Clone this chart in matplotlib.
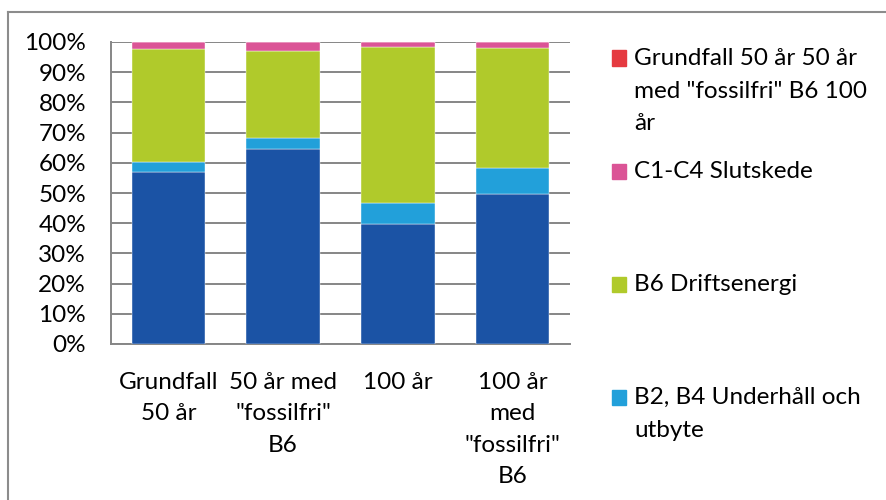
import numpy as np
import matplotlib.pyplot as plt
from matplotlib.patches import Rectangle
from matplotlib.lines import Line2D

plt.rcParams['font.family'] = ['Lato', 'DejaVu Sans']

categories = ['Grundfall\n50 år', '50 år med\n"fossilfri"\nB6', '100 år',
              '100 år\nmed\n"fossilfri"\nB6']
# share of total, percent, bottom to top
produkt = [57.1, 64.6, 39.7, 49.8]          # dark blue, label not visible in legend
underhall = [3.2, 3.7, 7.0, 8.6]            # B2, B4
drift = [37.3, 28.8, 51.6, 39.5]            # B6
slut = [2.4, 2.9, 1.7, 2.1]                 # C1-C4
grundfall = [0.0, 0.0, 0.0, 0.0]            # red series

series = [
    ('A1-A5 Produktskede', produkt, '#1b53a5'),
    ('B2, B4 Underhåll och utbyte', underhall, '#22a0da'),
    ('B6 Driftsenergi', drift, '#b0ca2b'),
    ('C1-C4 Slutskede', slut, '#db5496'),
    ('Grundfall 50 år 50 år med "fossilfri" B6 100 år', grundfall, '#e53a40'),
]

W, H = 887, 500
fig = plt.figure(figsize=(W / 100, H / 100), dpi=100)
ax = fig.add_axes([111 / W, 1 - 344 / H, 459 / W, 302 / H])

x = np.arange(len(categories))
bottom = np.zeros(len(categories))
for name, vals, col in series:
    vals = np.array(vals)
    ax.bar(x, vals, 0.64, bottom=bottom, color=col, label=name, zorder=3,
           edgecolor='white', linewidth=0.3)
    bottom += vals

ax.set_xlim(-0.5, len(categories) - 0.5)
ax.set_ylim(0, 100)
ax.set_yticks(np.arange(0, 101, 10))
ax.set_yticklabels([f'{v}%' for v in range(0, 101, 10)], fontsize=17.5)
ax.set_xticks(x)
ax.set_xticklabels(categories, fontsize=17.5, linespacing=1.62, va='top')
ax.tick_params(length=0)
ax.tick_params(axis='y', pad=18)
ax.tick_params(axis='x', pad=20)
ax.yaxis.grid(True, color='#868686', lw=1.4, zorder=0)
for s in ['top', 'right']:
    ax.spines[s].set_visible(False)
for s in ['left', 'bottom']:
    ax.spines[s].set_color('#868686')
    ax.spines[s].set_linewidth(1.4)

# legend, entries spaced evenly like the original
legend_items = [series[4], series[3], series[2], series[1]]
legend_text = ['Grundfall 50 år 50 år\nmed "fossilfri" B6 100\når', 'C1-C4 Slutskede',
               'B6 Driftsenergi', 'B2, B4 Underhåll och\nutbyte']
for i, ((name, vals, col), txt) in enumerate(zip(legend_items, legend_text)):
    yc = 58 + i * 113
    fig.patches.append(Rectangle((612 / W, 1 - (yc + 7.5) / H), 14 / W, 15 / H,
                                 transform=fig.transFigure, color=col))
    fig.text(634 / W, 1 - (yc - 10) / H, txt, fontsize=17.5, va='top', ha='left',
             linespacing=1.68)

# chart border
fig.add_artist(Line2D([8.5 / W, 8.5 / W], [0, 1 - 12 / H], color='#8c8c8c', lw=1.5,
                      transform=fig.transFigure))
fig.add_artist(Line2D([8.5 / W, 1], [1 - 12 / H, 1 - 12 / H], color='#8c8c8c', lw=1.5,
                      transform=fig.transFigure))

fig.savefig('out.png', dpi=100)
